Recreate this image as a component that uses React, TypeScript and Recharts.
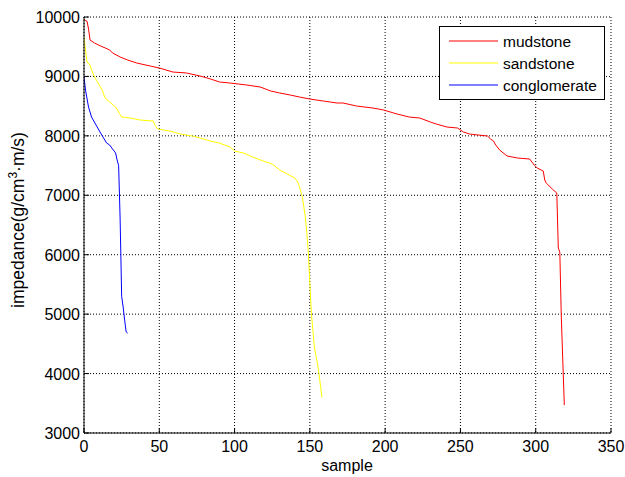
import { LineChart, Line, XAxis, YAxis, CartesianGrid, Legend } from "recharts";

// impedance per sample, sorted high to low, for each lithology
const mudstoneSample = [
  0, 1, 2, 3, 4, 7, 11, 14, 17, 19, 24, 29, 35, 44, 50, 59, 68, 77, 84, 90, 97, 108, 117, 124, 130, 137, 143,
  150, 159, 168, 172, 181, 192, 199, 208, 216, 223, 230, 234, 241, 248, 252, 256, 268, 270, 272, 273, 276, 281,
  288, 296, 299, 301, 305, 306, 307, 311, 314, 315, 316, 317, 319,
];
const mudstoneImpedance = [
  9966, 9940, 9930, 9800, 9613, 9562, 9512, 9480, 9445, 9394, 9327, 9276, 9226, 9175, 9142, 9074, 9058, 9007,
  8957, 8906, 8889, 8856, 8822, 8755, 8721, 8687, 8654, 8620, 8586, 8553, 8553, 8502, 8468, 8435, 8367, 8317,
  8300, 8233, 8199, 8149, 8132, 8065, 8031, 7997, 7947, 7913, 7863, 7762, 7661, 7627, 7610, 7509, 7459, 7408,
  7257, 7206, 7105, 7038, 6112, 6045, 4951, 3470,
];

const sandstoneSample = [
  0, 1, 2, 4, 5, 7, 9, 12, 14, 17, 21, 23, 25, 31, 37, 46, 47, 49, 57, 64, 72, 77, 84, 90, 97, 100, 106, 112,
  119, 125, 130, 135, 140, 142, 143, 145, 147, 148, 149, 150, 151, 152, 153, 155, 156, 158,
];
const sandstoneImpedance = [
  9663, 9445, 9243, 9192, 9108, 8990, 8906, 8771, 8637, 8570, 8485, 8401, 8317, 8300, 8267, 8250, 8182, 8115,
  8081, 8031, 7997, 7964, 7913, 7879, 7812, 7745, 7711, 7644, 7577, 7526, 7425, 7358, 7290, 7223, 7150, 6970,
  6634, 6365, 6028, 5523, 5018, 4732, 4446, 4176, 4008, 3604,
];

const conglomerateSample = [0, 1, 3, 5, 8, 11, 13, 15, 17, 19, 21, 22, 23, 24, 25, 26, 27, 28, 29];
const conglomerateImpedance = [
  8990, 8771, 8485, 8317, 8182, 8048, 7964, 7880, 7846, 7778, 7711, 7593, 7500, 6600, 5300, 5120, 4900, 4700, 4680,
];

const xTicks = [0, 50, 100, 150, 200, 250, 300, 350];
const yTicks = [3000, 4000, 5000, 6000, 7000, 8000, 9000, 10000];

const toPoints = (samples: number[], values: number[]) =>
  samples.map((s, i) => ({ sample: s, impedance: values[i] }));

const series = [
  { name: "mudstone", color: "#ff0000", data: toPoints(mudstoneSample, mudstoneImpedance) },
  { name: "sandstone", color: "#ffff00", data: toPoints(sandstoneSample, sandstoneImpedance) },
  { name: "conglomerate", color: "#0000ff", data: toPoints(conglomerateSample, conglomerateImpedance) },
];

const FONT = "'Liberation Sans', Arial, Helvetica, sans-serif";
const TICK = 5;

// ticks point into the plot box on every side, like a matlab figure
const BottomTick = ({ x, y, payload }: any) => (
  <g>
    <line x1={x} y1={y} x2={x} y2={y - TICK} stroke="#000" />
    <text x={x} y={y + 19} textAnchor="middle" fontSize={16} fontFamily={FONT} fill="#000">
      {payload.value}
    </text>
  </g>
);

const LeftTick = ({ x, y, payload }: any) => (
  <g>
    <line x1={x} y1={y} x2={x + TICK} y2={y} stroke="#000" />
    <text x={x - 4} y={y + 6} textAnchor="end" fontSize={16} fontFamily={FONT} fill="#000">
      {payload.value}
    </text>
  </g>
);

const TopTick = ({ x, y }: any) => <line x1={x} y1={y} x2={x} y2={y + TICK} stroke="#000" />;
const RightTick = ({ x, y }: any) => <line x1={x} y1={y} x2={x - TICK} y2={y} stroke="#000" />;

const XLabel = () => (
  <text x={347} y={471} textAnchor="middle" fontSize={16} fontFamily={FONT} fill="#000">
    sample
  </text>
);

const YLabel = () => (
  <text
    x={24}
    y={220}
    transform="rotate(-90 24 220)"
    textAnchor="middle"
    fontSize={17.5}
    fontFamily={FONT}
    fill="#000"
  >
    impedance(g/cm
    <tspan dy={-7} fontSize={12}>
      3
    </tspan>
    <tspan dy={7}>·m/s)</tspan>
  </text>
);

const LegendBox = () => (
  <div
    style={{
      width: 166,
      height: 74,
      boxSizing: "border-box",
      border: "1px solid #000",
      background: "#fff",
    }}
  >
    <svg width={164} height={72}>
      {series.map((s, i) => (
        <g key={s.name}>
          <line x1={9} x2={58} y1={14 + i * 22} y2={14 + i * 22} stroke={s.color} />
          <text x={63} y={19.5 + i * 22} fontSize={15.5} fontFamily={FONT} fill="#000">
            {s.name}
          </text>
        </g>
      ))}
    </svg>
  </div>
);

export default function App() {
  return (
    <div style={{ position: "absolute", left: 0, top: 0, background: "#fff" }}>
      <LineChart width={625} height={477} margin={{ top: 17, right: 14, bottom: 14, left: 10 }}>
        <CartesianGrid stroke="#000" strokeDasharray="1 2" />
        <XAxis
          dataKey="sample"
          type="number"
          domain={[0, 350]}
          ticks={xTicks}
          height={30}
          tickSize={0}
          tickMargin={0}
          tickLine={false}
          tick={BottomTick}
          axisLine={{ stroke: "#000" }}
          label={<XLabel />}
          allowDataOverflow
        />
        <XAxis
          xAxisId="top"
          orientation="top"
          type="number"
          domain={[0, 350]}
          ticks={xTicks}
          height={0}
          tickSize={0}
          tickMargin={0}
          tickLine={false}
          tick={TopTick}
          axisLine={{ stroke: "#000" }}
          allowDataOverflow
        />
        <YAxis
          type="number"
          domain={[3000, 10000]}
          ticks={yTicks}
          width={74}
          tickSize={0}
          tickMargin={0}
          tickLine={false}
          tick={LeftTick}
          axisLine={{ stroke: "#000" }}
          label={<YLabel />}
          allowDataOverflow
        />
        <YAxis
          yAxisId="right"
          orientation="right"
          type="number"
          domain={[3000, 10000]}
          ticks={yTicks}
          width={0}
          tickSize={0}
          tickMargin={0}
          tickLine={false}
          tick={RightTick}
          axisLine={{ stroke: "#000" }}
          allowDataOverflow
        />
        {series.map((s) => (
          <Line
            key={s.name}
            data={s.data}
            dataKey="impedance"
            name={s.name}
            type="linear"
            stroke={s.color}
            strokeWidth={1}
            dot={false}
            isAnimationActive={false}
          />
        ))}
        <Legend
          layout="horizontal"
          verticalAlign="middle"
          align="center"
          content={<LegendBox />}
          wrapperStyle={{ left: 439, top: 26, width: 166, height: 74 }}
        />
      </LineChart>
    </div>
  );
}
